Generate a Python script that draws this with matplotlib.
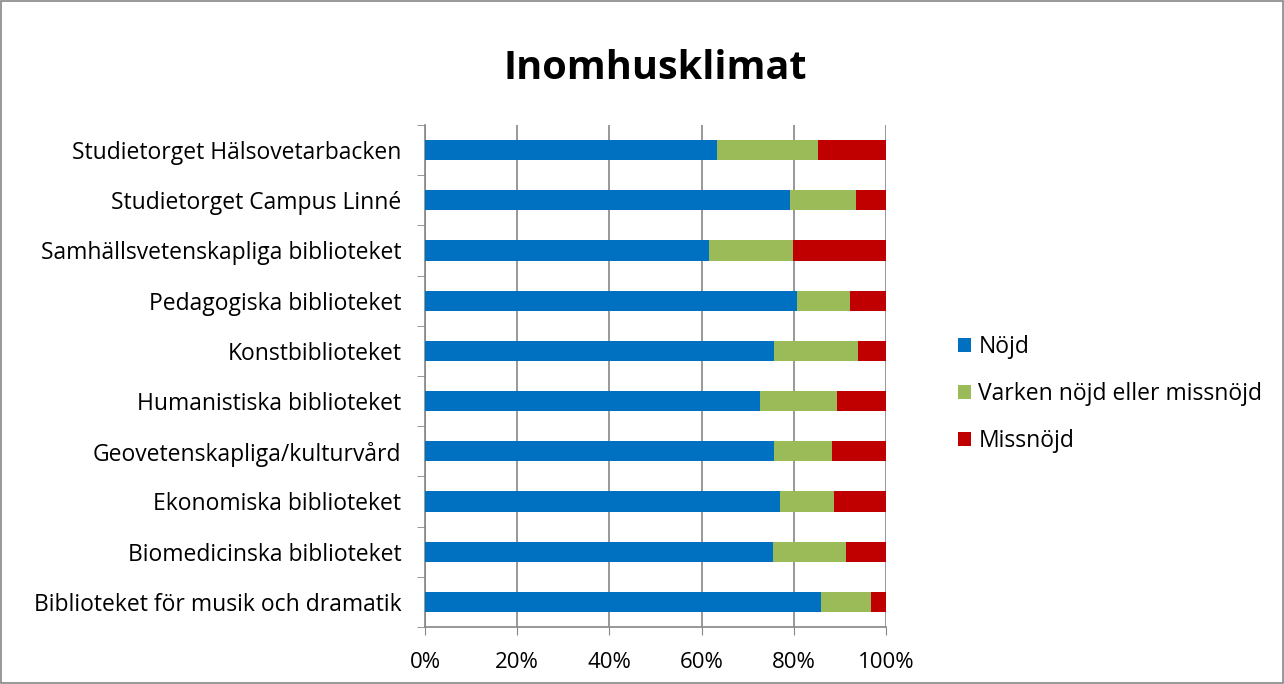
import matplotlib.pyplot as plt
from matplotlib.patches import Rectangle
import numpy as np

# Categories listed bottom to top, as drawn on the y axis
categories = [
    "Biblioteket för musik och dramatik",
    "Biomedicinska biblioteket",
    "Ekonomiska biblioteket",
    "Geovetenskapliga/kulturvård",
    "Humanistiska biblioteket",
    "Konstbiblioteket",
    "Pedagogiska biblioteket",
    "Samhällsvetenskapliga biblioteket",
    "Studietorget Campus Linné",
    "Studietorget Hälsovetarbacken",
]
nojd = [86.0, 75.5, 77.1, 75.8, 72.7, 75.8, 80.8, 61.5, 79.2, 63.4]
varken = [10.7, 15.9, 11.6, 12.4, 16.7, 18.2, 11.3, 18.4, 14.3, 21.8]
missnojd = [3.3, 8.6, 11.3, 11.8, 10.6, 6.0, 7.9, 20.1, 6.5, 14.8]

series_names = ["Nöjd", "Varken nöjd eller missnöjd", "Missnöjd"]
colors = ["#0070C0", "#9BBB59", "#C00000"]

plt.rcParams['font.family'] = ['Open Sans', 'DejaVu Sans']

fig = plt.figure(figsize=(12.84, 6.84), dpi=100)
ax = fig.add_axes([425 / 1284, 1 - 627 / 684, 461 / 1284, 502 / 684])

y = np.arange(len(categories))
left = np.zeros(len(categories))
for name, vals, c in zip(series_names, [nojd, varken, missnojd], colors):
    ax.barh(y, vals, left=left, height=0.4, color=c, label=name, zorder=3)
    left += np.array(vals)

ax.set_xlim(0, 100)
ax.set_ylim(-0.5, len(categories) - 0.5)
ax.set_xticks(np.arange(0, 101, 20))
ax.set_xticklabels([f"{v}%" for v in range(0, 101, 20)], fontsize=16)
ax.set_yticks(y)
ax.set_yticklabels(categories, fontsize=16.5)
ax.set_yticks(np.arange(-0.5, len(categories), 1), minor=True)
ax.tick_params(axis='y', which='major', length=0, pad=17)
ax.tick_params(axis='y', which='minor', length=6, color='#868686', direction='out')
ax.tick_params(axis='x', length=6, color='#868686', direction='out', pad=12)

ax.grid(axis='x', color='#868686', linewidth=1.2, zorder=0)
for s in ['top', 'right']:
    ax.spines[s].set_visible(False)
for s in ['left', 'bottom']:
    ax.spines[s].set_color('#868686')
    ax.spines[s].set_linewidth(1.2)

ax.set_title("Inomhusklimat", fontsize=28.5, fontweight='bold', pad=33)

fig.legend(loc='center left', bbox_to_anchor=(937 / 1284, 1 - 394 / 684),
           frameon=False, fontsize=16.5, handlelength=0.6, handleheight=0.6,
           handletextpad=0.3, labelspacing=1.0)

fig.patches.append(Rectangle((0.001, 0.002), 0.998, 0.996, transform=fig.transFigure,
                             fill=False, edgecolor='#868686', linewidth=1.2))

fig.savefig("out.png", dpi=100)
